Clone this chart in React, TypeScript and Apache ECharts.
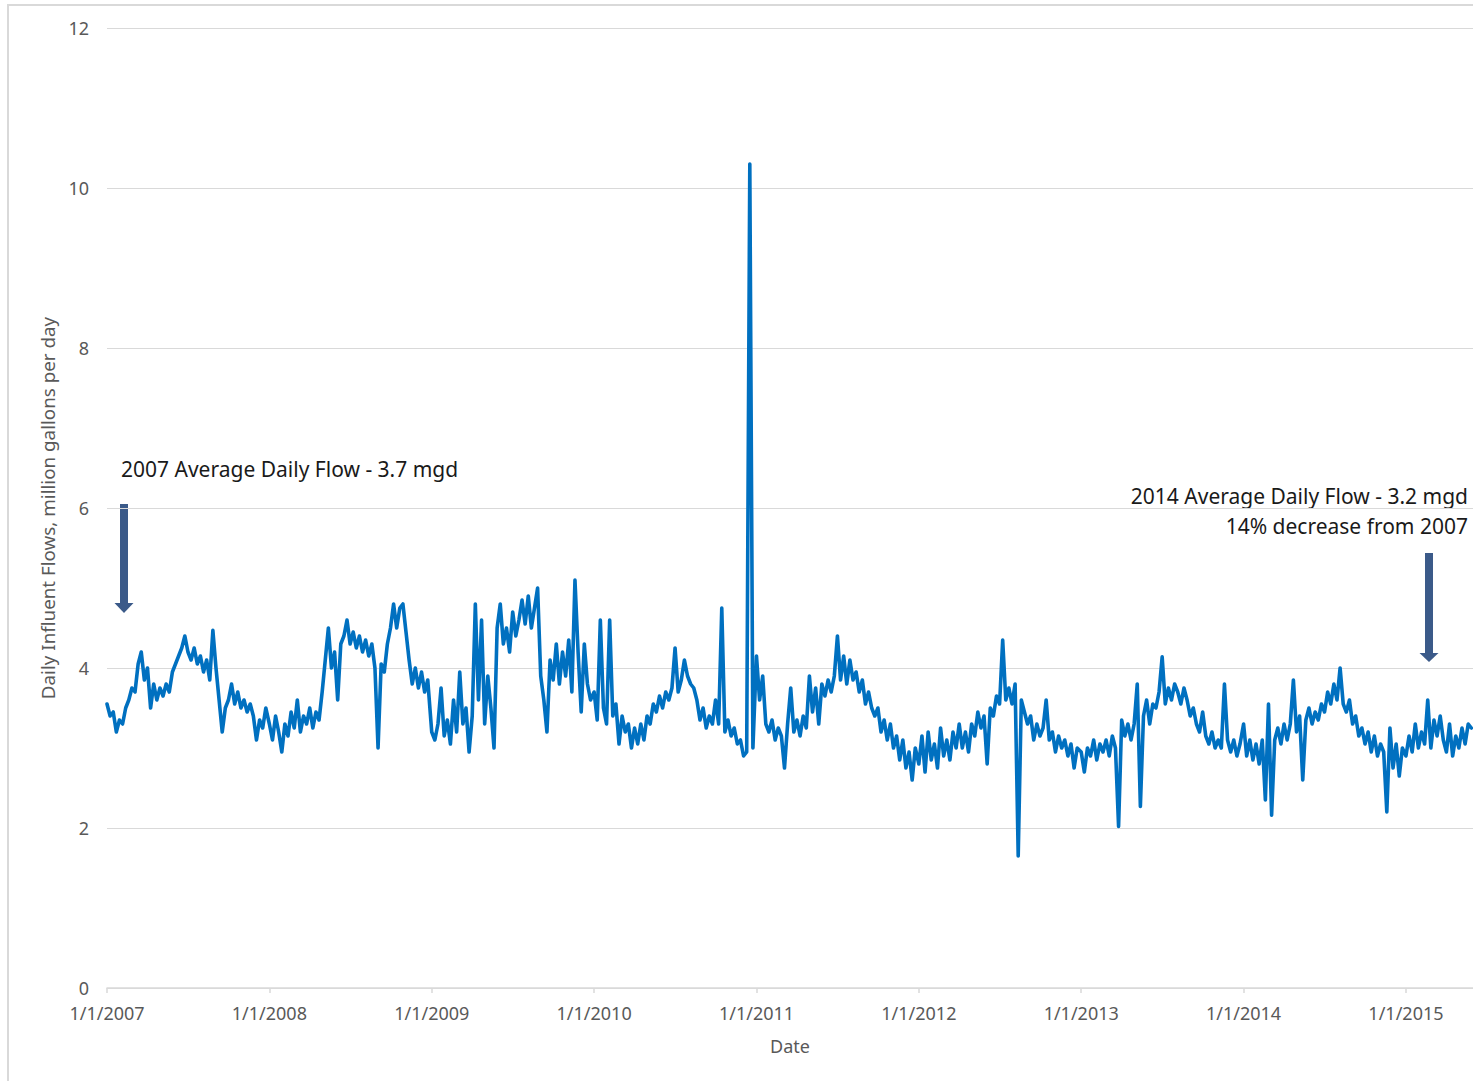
import React, { useEffect, useRef } from "react";
import * as echarts from "echarts";

// Weekly readings (million gallons per day), each array starts at 1 January of its year
const flow2007 = [3.55, 3.4, 3.45, 3.2, 3.35, 3.3, 3.5, 3.6, 3.75, 3.7, 4.05, 4.2, 3.85, 4.0, 3.5, 3.8, 3.6, 3.75, 3.65, 3.8, 3.7, 3.95, 4.05, 4.15, 4.25, 4.4, 4.2, 4.1, 4.25, 4.05, 4.15, 3.95, 4.1, 3.85, 4.47, 4.0, 3.6, 3.2, 3.5, 3.6, 3.8, 3.55, 3.7, 3.5, 3.6, 3.45, 3.55, 3.4, 3.1, 3.35, 3.25, 3.5];
const flow2008 = [3.3, 3.1, 3.4, 3.2, 2.95, 3.3, 3.15, 3.45, 3.25, 3.6, 3.2, 3.4, 3.3, 3.5, 3.25, 3.45, 3.35, 3.7, 4.1, 4.5, 4.0, 4.2, 3.6, 4.3, 4.4, 4.6, 4.3, 4.45, 4.25, 4.4, 4.2, 4.35, 4.15, 4.3, 4.0, 3.0, 4.05, 3.95, 4.3, 4.5, 4.8, 4.5, 4.75, 4.8, 4.45, 4.1, 3.8, 4.0, 3.75, 3.95, 3.7, 3.85];
const flow2009 = [3.2, 3.1, 3.3, 3.75, 3.15, 3.35, 3.05, 3.6, 3.2, 3.95, 3.3, 3.5, 2.95, 3.4, 4.8, 3.6, 4.6, 3.3, 3.9, 3.5, 3.0, 4.5, 4.8, 4.3, 4.5, 4.2, 4.7, 4.4, 4.6, 4.85, 4.55, 4.9, 4.5, 4.75, 5.0, 3.9, 3.6, 3.2, 4.1, 3.85, 4.3, 3.8, 4.2, 3.9, 4.35, 3.7, 5.1, 4.2, 3.45, 4.3, 3.8, 3.6];
const flow2010 = [3.7, 3.35, 4.6, 3.5, 3.3, 4.6, 3.4, 3.55, 3.05, 3.4, 3.2, 3.3, 3.0, 3.25, 3.05, 3.3, 3.1, 3.4, 3.3, 3.55, 3.45, 3.65, 3.5, 3.7, 3.6, 3.75, 4.25, 3.7, 3.85, 4.1, 3.9, 3.8, 3.75, 3.6, 3.35, 3.5, 3.25, 3.4, 3.3, 3.6, 3.3, 4.75, 3.2, 3.35, 3.15, 3.25, 3.05, 3.1, 2.9, 2.95, 10.3, 3.0];
const flow2011 = [4.15, 3.6, 3.9, 3.3, 3.2, 3.35, 3.1, 3.25, 3.15, 2.75, 3.3, 3.75, 3.2, 3.35, 3.15, 3.4, 3.25, 3.9, 3.45, 3.75, 3.3, 3.8, 3.65, 3.85, 3.7, 3.9, 4.4, 3.85, 4.15, 3.8, 4.1, 3.85, 3.95, 3.7, 3.85, 3.55, 3.7, 3.5, 3.4, 3.5, 3.2, 3.35, 3.1, 3.3, 3.0, 3.15, 2.85, 3.1, 2.75, 2.95, 2.6, 3.0];
const flow2012 = [2.8, 3.15, 2.7, 3.2, 2.85, 3.05, 2.75, 3.25, 2.9, 3.1, 2.85, 3.2, 3.0, 3.3, 3.0, 3.2, 2.95, 3.3, 3.15, 3.45, 3.25, 3.4, 2.8, 3.5, 3.4, 3.65, 3.55, 4.35, 3.6, 3.75, 3.55, 3.8, 1.65, 3.6, 3.45, 3.3, 3.4, 3.1, 3.3, 3.15, 3.25, 3.6, 3.1, 3.2, 2.95, 3.15, 3.0, 3.1, 2.9, 3.05, 2.75, 3.0];
const flow2013 = [2.95, 2.7, 3.0, 2.9, 3.1, 2.85, 3.05, 2.95, 3.1, 2.9, 3.15, 3.0, 2.02, 3.35, 3.15, 3.3, 3.1, 3.3, 3.8, 2.27, 3.4, 3.6, 3.3, 3.55, 3.5, 3.7, 4.14, 3.55, 3.75, 3.6, 3.8, 3.7, 3.55, 3.75, 3.6, 3.4, 3.5, 3.3, 3.2, 3.45, 3.15, 3.05, 3.2, 3.0, 3.1, 3.0, 3.8, 3.1, 2.95, 3.1, 2.9, 3.05];
const flow2014 = [3.3, 2.9, 3.1, 2.85, 3.05, 2.8, 3.1, 2.35, 3.55, 2.16, 3.1, 3.25, 3.05, 3.3, 3.1, 3.3, 3.85, 3.2, 3.4, 2.6, 3.35, 3.5, 3.3, 3.45, 3.35, 3.55, 3.45, 3.7, 3.55, 3.8, 3.6, 4.0, 3.55, 3.45, 3.6, 3.3, 3.4, 3.15, 3.25, 3.05, 3.2, 2.95, 3.15, 2.9, 3.05, 2.95, 2.2, 3.25, 2.75, 3.05, 2.65, 3.0];
const flow2015 = [2.9, 3.15, 2.95, 3.3, 3.0, 3.2, 3.05, 3.6, 3.0, 3.35, 3.15, 3.4, 3.1, 2.95, 3.3, 2.9, 3.15, 3.0, 3.25, 3.05, 3.3, 3.25];

const yearSeries: [number, number[]][] = [
  [2007, flow2007],
  [2008, flow2008],
  [2009, flow2009],
  [2010, flow2010],
  [2011, flow2011],
  [2012, flow2012],
  [2013, flow2013],
  [2014, flow2014],
  [2015, flow2015],
];

const yTicks = { min: 0, max: 12, interval: 2 };
const xStartYear = 2007;
const xEndYear = 2015.413; // end of record, late May 2015

const annotationLeft = "2007 Average Daily Flow - 3.7 mgd";
const annotationRight = ["2014 Average Daily Flow - 3.2 mgd", "14% decrease from 2007"];

function daysIn(year: number) {
  return (year % 4 === 0 && year % 100 !== 0) || year % 400 === 0 ? 366 : 365;
}

export default function App() {
  const ref = useRef<HTMLDivElement>(null);

  useEffect(() => {
    if (!ref.current) return;
    const chart = echarts.init(ref.current, undefined, { renderer: "svg" });
    const data: [number, number][] = [];
    yearSeries.forEach(([year, vals]) => {
      const d = daysIn(year);
      vals.forEach((v, w) => data.push([year + (w * 7) / d, v]));
    });

    const font = "'Noto Sans', 'DejaVu Sans', sans-serif";
    const arrowColor = "#3b5a89";

    const arrow = (cx: number, top: number, headTop: number, tip: number) => ({
      type: "group",
      children: [
        { type: "rect", shape: { x: cx - 4, y: top, width: 8, height: headTop - top + 1 }, style: { fill: arrowColor } },
        {
          type: "polygon",
          shape: { points: [[cx - 9.5, headTop], [cx + 9.5, headTop], [cx, tip]] },
          style: { fill: arrowColor },
        },
      ],
    });

    chart.setOption({
      animation: false,
      backgroundColor: "#ffffff",
      textStyle: { fontFamily: font },
      grid: { left: 107, right: 0, top: 28, bottom: 93, containLabel: false },
      xAxis: {
        type: "value",
        min: xStartYear,
        max: xEndYear,
        interval: 1,
        name: "Date",
        nameLocation: "middle",
        nameGap: 49,
        nameTextStyle: { color: "#595959", fontSize: 18, fontFamily: font },
        axisLine: { show: true, lineStyle: { color: "#d9d9d9", width: 1.5 } },
        axisTick: { show: true, length: 5, lineStyle: { color: "#d9d9d9", width: 1.5 } },
        splitLine: { show: false },
        axisLabel: {
          color: "#595959",
          fontSize: 18,
          fontFamily: font,
          margin: 16,
          showMaxLabel: false,
          formatter: (v: number) => (Number.isInteger(v) ? `1/1/${v}` : ""),
        },
      },
      yAxis: {
        type: "value",
        min: yTicks.min,
        max: yTicks.max,
        interval: yTicks.interval,
        name: "Daily Influent Flows, million gallons per day",
        nameLocation: "middle",
        nameGap: 49,
        nameTextStyle: { color: "#595959", fontSize: 18.8, fontFamily: font },
        axisLine: { show: false },
        axisTick: { show: false },
        splitLine: { show: true, lineStyle: { color: "#d9d9d9", width: 1 } },
        axisLabel: { color: "#595959", fontSize: 18, fontFamily: font, margin: 18 },
      },
      series: [
        {
          type: "line",
          data,
          showSymbol: false,
          symbol: "none",
          lineStyle: { color: "#0070c0", width: 3.6, join: "round", cap: "round" },
          itemStyle: { color: "#0070c0" },
          z: 3,
        },
      ],
      graphic: [
        {
          type: "rect",
          shape: { x: 8, y: 5, width: 1600, height: 1200 },
          style: { fill: "none", stroke: "#d9d9d9", lineWidth: 2 },
          silent: true,
        },
        {
          type: "text",
          x: 121,
          y: 469,
          style: {
            text: annotationLeft,
            fill: "#1a1a1a",
            fontSize: 21,
            fontFamily: font,
            textAlign: "left",
            textVerticalAlign: "middle",
          },
        },
        {
          type: "text",
          x: 1468,
          y: 496,
          style: {
            text: annotationRight[0],
            fill: "#1a1a1a",
            fontSize: 21,
            fontFamily: font,
            textAlign: "right",
            textVerticalAlign: "middle",
          },
        },
        {
          type: "text",
          x: 1468,
          y: 526,
          style: {
            text: annotationRight[1],
            fill: "#1a1a1a",
            fontSize: 21,
            fontFamily: font,
            textAlign: "right",
            textVerticalAlign: "middle",
          },
        },
        arrow(124, 504, 603, 613),
        arrow(1429, 553, 653, 662),
      ],
    });
    return () => chart.dispose();
  }, []);

  return (
    <div
      ref={ref}
      style={{ position: "fixed", left: 0, top: 0, width: 1473, height: 1081, background: "#fff" }}
    />
  );
}
